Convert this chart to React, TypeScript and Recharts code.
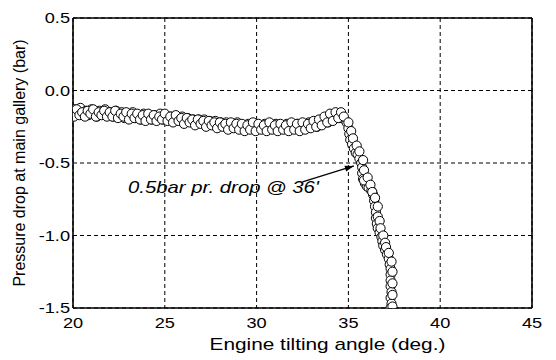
import React from "react";
import {
  ScatterChart,
  Scatter,
  XAxis,
  YAxis,
  CartesianGrid,
  ReferenceLine,
  ReferenceDot,
} from "recharts";

// engine tilting angle (deg.) and pressure drop at main gallery (bar)
const angle = [
  20.0, 20.1, 20.25, 20.4, 20.55, 20.7, 20.85, 21.0, 21.15, 21.3, 21.45, 21.6, 21.75, 21.9,
  22.05, 22.2, 22.35, 22.5, 22.65, 22.8, 22.95, 23.1, 23.25, 23.4, 23.55, 23.7, 23.85, 24.0,
  24.15, 24.3, 24.45, 24.6, 24.75, 24.9, 25.05, 25.2, 25.35, 25.5, 25.65, 25.8, 25.95, 26.1,
  26.25, 26.4, 26.55, 26.7, 26.85, 27.0, 27.15, 27.3, 27.45, 27.6, 27.75, 27.9, 28.05, 28.2,
  28.35, 28.5, 28.65, 28.8, 28.95, 29.1, 29.25, 29.4, 29.55, 29.7, 29.85, 30.0, 30.15, 30.3,
  30.45, 30.6, 30.75, 30.9, 31.05, 31.2, 31.35, 31.5, 31.65, 31.8, 31.95, 32.1, 32.25, 32.4,
  32.55, 32.7, 32.85, 33.0, 33.15, 33.3, 33.45, 33.6, 33.75, 33.9, 34.05, 34.2, 34.35, 34.5,
  34.65, 34.8, 34.9, 35.0, 35.05, 35.1, 35.2, 35.3, 35.4, 35.5, 35.6, 35.7, 35.75, 35.75,
  35.8, 35.9, 36.0, 36.1, 36.25, 36.35, 36.4, 36.45, 36.5, 36.5, 36.55, 36.6, 36.7, 36.8,
  36.85, 36.9, 37.0, 37.1, 37.2, 37.25, 37.3, 37.3, 37.3, 37.3, 37.35, 37.3, 37.35, 37.3,
];
const pressure = [
  -0.17, -0.13, -0.15, -0.12, -0.16, -0.14, -0.17, -0.13, -0.15, -0.18, -0.14, -0.16, -0.13, -0.17,
  -0.15, -0.18, -0.14, -0.17, -0.15, -0.19, -0.16, -0.18, -0.15, -0.19, -0.17, -0.2, -0.16, -0.19,
  -0.17, -0.2, -0.17, -0.19, -0.16, -0.2, -0.17, -0.2, -0.18, -0.21, -0.18, -0.2, -0.18, -0.22,
  -0.19, -0.21, -0.2, -0.23, -0.2, -0.22, -0.2, -0.24, -0.21, -0.23, -0.21, -0.25, -0.22, -0.24,
  -0.22, -0.26, -0.23, -0.25, -0.22, -0.26, -0.24, -0.27, -0.23, -0.26, -0.24, -0.27, -0.24, -0.26,
  -0.23, -0.27, -0.24, -0.26, -0.23, -0.27, -0.24, -0.26, -0.23, -0.27, -0.24, -0.26, -0.23, -0.27,
  -0.24, -0.26, -0.22, -0.25, -0.22, -0.25, -0.21, -0.23, -0.19, -0.22, -0.17, -0.2, -0.16, -0.19,
  -0.17, -0.2, -0.22, -0.26, -0.3, -0.34, -0.37, -0.4, -0.43, -0.44, -0.47, -0.5, -0.53, -0.57,
  -0.61, -0.64, -0.66, -0.67, -0.69, -0.72, -0.76, -0.8, -0.84, -0.88, -0.92, -0.95, -0.98, -1.01,
  -1.04, -1.07, -1.1, -1.13, -1.16, -1.2, -1.23, -1.27, -1.31, -1.35, -1.39, -1.43, -1.47, -1.5,
];

// second pass of the sweep (the band is two overlapping rows of readings)
const angleB = [
  20.05, 20.2, 20.35, 20.5, 20.65, 20.8, 20.95, 21.1, 21.25, 21.4, 21.55, 21.7, 21.85, 22.0,
  22.15, 22.3, 22.45, 22.6, 22.75, 22.9, 23.05, 23.2, 23.35, 23.5, 23.65, 23.8, 23.95, 24.1,
  24.25, 24.4, 24.55, 24.7, 24.85, 25.0, 25.15, 25.3, 25.45, 25.6, 25.75, 25.9, 26.05, 26.2,
  26.35, 26.5, 26.65, 26.8, 26.95, 27.1, 27.25, 27.4, 27.55, 27.7, 27.85, 28.0, 28.15, 28.3,
  28.45, 28.6, 28.75, 28.9, 29.05, 29.2, 29.35, 29.5, 29.65, 29.8, 29.95, 30.1, 30.25, 30.4,
  30.55, 30.7, 30.85, 31.0, 31.15, 31.3, 31.45, 31.6, 31.75, 31.9, 32.05, 32.2, 32.35, 32.5,
  32.65, 32.8, 32.95, 33.1, 33.25, 33.4, 33.55, 33.7, 33.85, 34.0, 34.15, 34.3, 34.45, 34.6,
  34.75, 35.0, 35.15, 35.25, 35.45, 35.6, 35.8, 35.85, 35.85, 36.05, 36.2, 36.3, 36.45, 36.6,
  36.6, 36.7, 36.75, 36.9, 37.0, 37.05, 37.2, 37.35, 37.4, 37.4, 37.4, 37.4,
];
const pressureB = [
  -0.18, -0.13, -0.17, -0.15, -0.18, -0.14, -0.16, -0.13, -0.18, -0.15, -0.17, -0.14, -0.18, -0.15,
  -0.18, -0.14, -0.19, -0.16, -0.18, -0.15, -0.2, -0.16, -0.19, -0.16, -0.2, -0.17, -0.21, -0.16,
  -0.2, -0.17, -0.21, -0.18, -0.2, -0.16, -0.21, -0.18, -0.22, -0.17, -0.21, -0.19, -0.23, -0.19,
  -0.22, -0.2, -0.24, -0.2, -0.23, -0.21, -0.25, -0.21, -0.24, -0.22, -0.26, -0.22, -0.25, -0.23,
  -0.27, -0.22, -0.26, -0.23, -0.27, -0.23, -0.28, -0.24, -0.27, -0.22, -0.28, -0.23, -0.27, -0.24,
  -0.28, -0.22, -0.27, -0.24, -0.28, -0.23, -0.27, -0.24, -0.28, -0.22, -0.27, -0.23, -0.28, -0.22,
  -0.27, -0.23, -0.26, -0.21, -0.25, -0.2, -0.24, -0.18, -0.22, -0.16, -0.21, -0.15, -0.19, -0.15,
  -0.18, -0.22, -0.28, -0.33, -0.38, -0.42, -0.48, -0.55, -0.62, -0.6, -0.65, -0.7, -0.74, -0.8,
  -0.87, -0.9, -0.95, -1.0, -1.05, -1.08, -1.12, -1.18, -1.25, -1.33, -1.41, -1.49,
];

const xTicks = [20, 25, 30, 35, 40, 45];
const yTicks = [0.5, 0, -0.5, -1, -1.5];

// annotation: text anchor and arrow, in data units
const noteText = "0.5bar pr. drop @ 36'";
const noteAt = { x: 23.0, y: -0.71 };
const arrowFrom = { x: 32.5, y: -0.63 };
const arrowTo = { x: 35.3, y: -0.52 };

const data = [
  ...angle.map((a, i) => ({ angle: a, pressure: pressure[i] })),
  ...angleB.map((a, i) => ({ angle: a, pressure: pressureB[i] })),
];

const FONT = "'Liberation Sans', Arial, Helvetica, sans-serif";
const STRETCH = 1.3;

function XTick({ x, y, payload }: any) {
  return (
    <text
      transform={`translate(${x},${y}) scale(${STRETCH},1)`}
      textAnchor="middle"
      dy="0.72em"
      fontSize={14}
      fontFamily={FONT}
      fill="#000"
    >
      {payload.value}
    </text>
  );
}

function YTick({ x, y, payload }: any) {
  return (
    <text
      transform={`translate(${x},${y}) scale(${STRETCH},1)`}
      textAnchor="end"
      dy="0.36em"
      fontSize={14}
      fontFamily={FONT}
      fill="#000"
    >
      {Number(payload.value).toFixed(1)}
    </text>
  );
}

function XTitle({ viewBox }: any) {
  const cx = viewBox.x + viewBox.width / 2 + 25;
  return (
    <text
      transform={`translate(${cx},350) scale(${STRETCH},1)`}
      textAnchor="middle"
      fontSize={16}
      fontFamily={FONT}
      fill="#000"
    >
      Engine tilting angle (deg.)
    </text>
  );
}

function YTitle({ viewBox }: any) {
  const cy = viewBox.y + viewBox.height / 2;
  return (
    <text
      transform={`translate(19,${cy}) rotate(-90)`}
      textAnchor="middle"
      dy="0.36em"
      fontSize={16}
      fontFamily={FONT}
      fill="#000"
    >
      Pressure drop at main gallery (bar)
    </text>
  );
}

function Ring({ cx, cy }: any) {
  return <circle cx={cx} cy={cy} r={4.6} fill="#fff" stroke="#000" strokeWidth={1} />;
}

function NoteLabel({ cx, cy }: any) {
  return (
    <text
      transform={`translate(${cx},${cy}) scale(1.27,1)`}
      fontSize={16}
      fontStyle="italic"
      fontFamily={FONT}
      fill="#000"
    >
      {noteText}
    </text>
  );
}

function ArrowHead({ cx, cy }: any) {
  return (
    <polygon
      transform={`translate(${cx},${cy}) rotate(-17)`}
      points="0,0 -9,-3 -9,3"
      fill="#000"
    />
  );
}

export default function App() {
  return (
    <div style={{ position: "absolute", left: 0, top: 0, width: 556, height: 360, background: "#fff" }}>
      <ScatterChart width={556} height={360} margin={{ top: 18, right: 24, bottom: 22, left: 0 }}>
        <CartesianGrid stroke="#000" strokeDasharray="4 3" strokeWidth={1} />
        <XAxis
          type="number"
          dataKey="angle"
          domain={[20, 45]}
          ticks={xTicks}
          allowDataOverflow
          height={30}
          tickSize={0}
          tickMargin={10}
          tick={<XTick />}
          axisLine={{ stroke: "#000", strokeWidth: 1.6 }}
          label={<XTitle />}
        />
        <YAxis
          type="number"
          dataKey="pressure"
          domain={[-1.5, 0.5]}
          ticks={yTicks}
          allowDataOverflow
          width={73}
          tickSize={0}
          tickMargin={3}
          tick={<YTick />}
          axisLine={{ stroke: "#000", strokeWidth: 1.6 }}
          label={<YTitle />}
        />
        <ReferenceLine y={0.5} stroke="#000" strokeWidth={1.6} />
        <ReferenceLine x={45} stroke="#000" strokeWidth={1.6} />
        <Scatter data={data} shape={<Ring />} isAnimationActive={false} />
        <ReferenceLine
          segment={[arrowFrom, arrowTo]}
          stroke="#000"
          strokeWidth={1.2}
        />
        <ReferenceDot x={arrowTo.x} y={arrowTo.y} shape={<ArrowHead />} />
        <ReferenceDot x={noteAt.x} y={noteAt.y} shape={<NoteLabel />} />
      </ScatterChart>
    </div>
  );
}
